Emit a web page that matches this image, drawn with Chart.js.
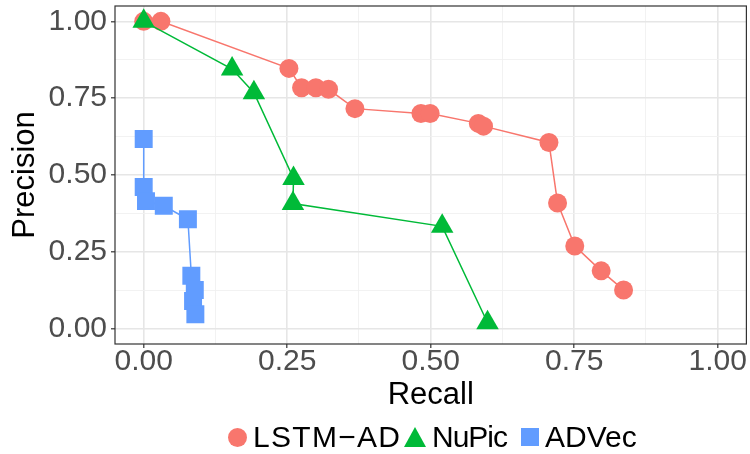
<!DOCTYPE html>
<html>
<head>
<meta charset="utf-8">
<script src="https://cdn.jsdelivr.net/npm/chart.js@4"></script>
<style>
  html, body { margin: 0; padding: 0; background: #fff; }
  .wrap { position: relative; width: 750px; height: 454px; font-family: "Liberation Sans", Arial, sans-serif; }
  canvas { position: absolute; left: 0; top: 0; }
  .legend span { position: absolute; font-size: 30px; color: #000; line-height: 30px; top: 422px; }
  .legend .mark { position: absolute; }
</style>
</head>
<body>
<div class="wrap">
  <canvas id="prChart" width="750" height="454"></canvas>
  <div class="legend">
    <div class="mark" style="left:228px;top:428px;width:19px;height:19px;border-radius:50%;background:#F8766D"></div>
    <span style="left:253px;letter-spacing:1.3px">LSTM−AD</span>
    <div class="mark" style="left:404px;top:427px;width:0;height:0;border-left:11.5px solid transparent;border-right:11.5px solid transparent;border-bottom:20px solid #00BA38"></div>
    <span style="left:432px;letter-spacing:-1px">NuPic</span>
    <div class="mark" style="left:521px;top:428px;width:18px;height:18px;background:#619CFF"></div>
    <span style="left:545px">ADVec</span>
  </div>
</div>
<script>
const seriesNames = ['LSTM-AD', 'NuPic', 'ADVec'];
const seriesColors = ['#F8766D', '#00BA38', '#619CFF'];

const lstmRecall = [0.000, 0.030, 0.253, 0.275, 0.300, 0.322, 0.368, 0.483, 0.499, 0.583, 0.592, 0.706, 0.721, 0.751, 0.797, 0.836];
const lstmPrecision = [1.000, 1.000, 0.847, 0.784, 0.784, 0.779, 0.716, 0.700, 0.700, 0.668, 0.659, 0.606, 0.409, 0.269, 0.188, 0.126];

const nupicRecall = [0.000, 0.154, 0.192, 0.261, 0.260, 0.520, 0.599];
const nupicPrecision = [1.000, 0.845, 0.768, 0.489, 0.407, 0.333, 0.019];

const advecRecall = [0.000, 0.000, 0.004, 0.035, 0.077, 0.083, 0.089, 0.086, 0.090];
const advecPrecision = [0.617, 0.461, 0.415, 0.400, 0.356, 0.172, 0.126, 0.090, 0.047];

const tickValues = [0, 0.25, 0.5, 0.75, 1];
const minorValues = [0.125, 0.375, 0.625, 0.875];

const toPoints = (xs, ys) => xs.map((x, i) => ({ x, y: ys[i] }));
const isMajor = (v) => tickValues.some((t) => Math.abs(t - v) < 1e-9);

const panelBorder = {
  id: 'panelBorder',
  beforeDatasetsDraw(chart) {
    const { ctx, chartArea: a } = chart;
    ctx.save();
    ctx.strokeStyle = '#333333';
    ctx.lineWidth = 1.2;
    ctx.strokeRect(a.left, a.top, a.right - a.left, a.bottom - a.top);
    ctx.restore();
  }
};

function axis(fitKey, fitSize, titleText, titlePadding, tickPadding) {
  return {
    type: 'linear',
    min: -0.05,
    max: 1.05,
    afterBuildTicks: (scale) => {
      scale.ticks = [...tickValues, ...minorValues].sort((a, b) => a - b).map((value) => ({ value }));
    },
    afterFit: (scale) => {
      scale[fitKey] = fitSize;
      // labels may overhang the panel edge, like in ggplot
      scale.paddingTop = scale.paddingBottom = scale.paddingLeft = scale.paddingRight = 0;
    },
    border: { display: false },
    grid: {
      color: (c) => isMajor(c.tick.value) ? '#E6E6E6' : '#F0F0F0',
      lineWidth: (c) => isMajor(c.tick.value) ? 1.6 : 0.9,
      tickColor: (c) => isMajor(c.tick.value) ? '#333333' : 'rgba(0,0,0,0)',
      tickLength: 4,
      tickWidth: 1.2
    },
    ticks: {
      color: '#4D4D4D',
      padding: tickPadding,
      font: { family: '"Liberation Sans", Arial, sans-serif', size: 30 },
      maxRotation: 0,
      autoSkip: false,
      callback: (v) => isMajor(v) ? v.toFixed(2) : ''
    },
    title: {
      display: true,
      text: titleText,
      color: '#000',
      padding: titlePadding,
      font: { family: '"Liberation Sans", Arial, sans-serif', size: 31 }
    }
  };
}

const sets = [
  [lstmRecall, lstmPrecision, 'circle', 9.5, 2],
  [nupicRecall, nupicPrecision, 'triangle', 13, 1],
  [advecRecall, advecPrecision, 'rect', 12.7, 0]
];

new Chart(document.getElementById('prChart'), {
  type: 'scatter',
  data: {
    datasets: sets.map(([xs, ys, style, radius, order], i) => ({
      label: seriesNames[i],
      data: toPoints(xs, ys),
      showLine: true,
      borderColor: seriesColors[i],
      backgroundColor: seriesColors[i],
      borderWidth: 1.5,
      pointStyle: style,
      pointRadius: radius,
      pointHoverRadius: radius,
      pointBorderWidth: 0,
      pointBackgroundColor: seriesColors[i],
      order
    }))
  },
  options: {
    responsive: false,
    animation: false,
    layout: { autoPadding: false, padding: { top: 6, right: 3.6, left: 0, bottom: 40 } },
    plugins: { legend: { display: false }, tooltip: { enabled: false } },
    scales: {
      x: axis('height', 70, 'Recall', { top: 0, bottom: 0 }, -4),
      y: axis('width', 115, 'Precision', { top: 7, bottom: 0 }, 4)
    }
  },
  plugins: [panelBorder]
});
</script>
</body>
</html>
